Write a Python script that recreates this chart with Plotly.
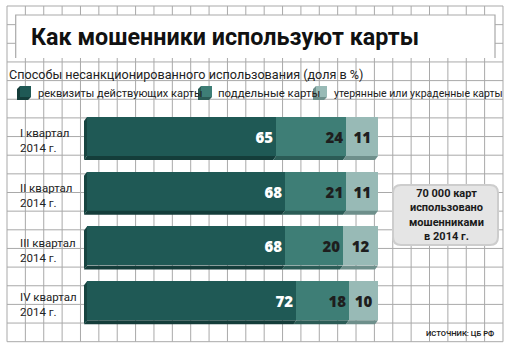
import plotly.graph_objects as go

# ---------------- data ----------------
quarters = ["I квартал<br>2014 г.", "II квартал<br>2014 г.", "III квартал<br>2014 г.", "IV квартал<br>2014 г."]
series_names = ["реквизиты действующих карты", "поддельные карты", "утерянные или украденные карты"]
real_cards = [65, 68, 68, 72]
fake_cards = [24, 21, 20, 18]
lost_cards = [11, 11, 12, 10]
title_text = "Как мошенники используют карты"
subtitle_text = "Способы несанкционированного использования (доля в %)"
callout_lines = ["70 000 карт", "использовано", "мошенниками", "в 2014 г."]
source_text = "ИСТОЧНИК: ЦБ РФ"

face_colors = ["#1f5955", "#3e7e76", "#98bab6"]
side_colors = ["#143d3a", "#2b5c56", "#6e8f8b"]
text_colors = ["#ffffff", "#1e1e1e", "#1e1e1e"]
series_vals = [real_cards, fake_cards, lost_cards]

W, H = 512, 351

def px(x):
    return x / W

def py(y):
    return 1 - y / H

# axis geometry (pixels)
X_LO, X_HI = -2, 102
x_face0 = 87.0
ppx = 2.91  # pixels per percent
x_dom = [px(x_face0 + ppx * X_LO), px(x_face0 + ppx * X_HI)]
pitch = 54.75
c0 = 136.5
y_top_px = c0 - pitch / 2
y_bot_px = c0 + pitch * 3.5
y_dom = [py(y_bot_px), py(y_top_px)]
bar_w = 39 / pitch

ypos = list(range(len(quarters)))

fig = go.Figure()
for k in range(3):
    fig.add_trace(go.Bar(
        y=ypos, x=series_vals[k], orientation="h", name=series_names[k],
        marker=dict(color=face_colors[k], line=dict(width=0)),
        width=bar_w,
        text=[str(v) for v in series_vals[k]],
        textposition="inside",
        insidetextanchor="end" if k < 2 else "middle",
        textangle=0,
        textfont=dict(family="Open Sans", size=15, color=text_colors[k], weight=800),
        hoverinfo="skip", showlegend=False,
    ))

shapes = []
# grid
gx = [7 + 18.37 * k for k in range(28)]
gy = [6 + 18.65 * k for k in range(19)]
path = ""
for x in gx:
    path += f"M{px(x)},{py(6)} L{px(x)},{py(341.7)} "
for y in gy:
    path += f"M{px(7)},{py(y)} L{px(503)},{py(y)} "
shapes.append(dict(type="path", path=path, xref="paper", yref="paper",
                   line=dict(color="#a9a9a9", width=1), layer="below"))
# title box
shapes.append(dict(type="rect", xref="paper", yref="paper", x0=px(15.7), x1=px(495), y0=py(58), y1=py(15),
                   fillcolor="white", line=dict(width=0), layer="below"))
shapes.append(dict(type="path", xref="paper", yref="paper",
                   path=f"M{px(15.7)},{py(58)} L{px(15.7)},{py(15)} L{px(495)},{py(15)} L{px(495)},{py(58)}",
                   line=dict(color="#a9a9a9", width=1.2), layer="below"))
# callout box
bx0, bx1, by0, by1, r = 393, 498, 185, 245, 8
cpath = (f"M{px(bx0+r)},{py(by0)} L{px(bx1-r)},{py(by0)} Q{px(bx1)},{py(by0)} {px(bx1)},{py(by0+r)} "
         f"L{px(bx1)},{py(by1-r)} Q{px(bx1)},{py(by1)} {px(bx1-r)},{py(by1)} "
         f"L{px(bx0+r)},{py(by1)} Q{px(bx0)},{py(by1)} {px(bx0)},{py(by1-r)} "
         f"L{px(bx0)},{py(by0+r)} Q{px(bx0)},{py(by0)} {px(bx0+r)},{py(by0)} Z")
shapes.append(dict(type="path", xref="paper", yref="paper", path=cpath,
                   fillcolor="#e5e5e5", line=dict(color="#cdcdcd", width=2), layer="below"))

# 3D bevels for bars (data coordinates)
dx = 3 / ppx
dy = 4 / pitch
for i in ypos:
    yt = i - bar_w / 2
    yb = i + bar_w / 2
    start = 0
    for k in range(3):
        end = start + series_vals[k][i]
        shapes.append(dict(type="path", xref="x", yref="y",
                           path=f"M{start},{yb} L{end},{yb} L{end-dx},{yb+dy} L{start-dx},{yb+dy} Z",
                           fillcolor=side_colors[k], line=dict(width=0), layer="above"))
        start = end
    shapes.append(dict(type="path", xref="x", yref="y",
                       path=f"M0,{yt} L0,{yb} L{-dx},{yb+dy} L{-dx},{yt+dy} Z",
                       fillcolor="#164440", line=dict(width=0), layer="above"))

# legend cubes
leg_x = [17, 198, 313]
leg_text_x = [36, 216, 332]
leg_size = [11.0, 11.4, 10.5]
for k in range(3):
    x0 = leg_x[k]
    f0, f1 = x0 + 3, x0 + 14
    t0, t1 = 86, 97
    shapes.append(dict(type="rect", xref="paper", yref="paper", x0=px(f0), x1=px(f1), y0=py(t1), y1=py(t0),
                       fillcolor=face_colors[k], line=dict(width=0), layer="above"))
    shapes.append(dict(type="path", xref="paper", yref="paper",
                       path=f"M{px(f0)},{py(t0)} L{px(f0)},{py(t1)} L{px(f1)},{py(t1)} L{px(f1-3)},{py(t1+3)} L{px(f0-3)},{py(t1+3)} L{px(f0-3)},{py(t0+3)} Z",
                       fillcolor=side_colors[k], line=dict(width=0), layer="above"))

annotations = []
annotations.append(dict(text=f"<b>{title_text}</b>", x=px(29), y=py(37), xref="paper", yref="paper",
                        xanchor="left", yanchor="middle", showarrow=False,
                        font=dict(family="Roboto", size=23.3, color="#111111", weight=900)))
annotations.append(dict(text=subtitle_text, x=px(7), y=py(74), xref="paper", yref="paper",
                        xanchor="left", yanchor="middle", showarrow=False,
                        font=dict(family="Roboto", size=12.6, color="#222222")))
for k in range(3):
    annotations.append(dict(text=series_names[k], x=px(leg_text_x[k]), y=py(93.5), xref="paper", yref="paper",
                            xanchor="left", yanchor="middle", showarrow=False,
                            font=dict(family="Roboto", size=leg_size[k], color="#222222")))
for i in ypos:
    annotations.append(dict(text=quarters[i], x=px(18), y=i, xref="paper", yref="y", yshift=-4,
                            xanchor="left", yanchor="middle", align="left", showarrow=False,
                            font=dict(family="Roboto", size=11.5, color="#222222")))
annotations.append(dict(text="<br>".join(f"<b>{t}</b>" for t in callout_lines), x=px(446), y=py(214.5),
                        xref="paper", yref="paper", xanchor="center", yanchor="middle", align="center",
                        showarrow=False,
                        font=dict(family="Roboto", size=11, color="#1a1a1a", weight=700)))
annotations.append(dict(text=source_text, x=px(496), y=py(333.5), xref="paper", yref="paper",
                        xanchor="right", yanchor="middle", showarrow=False,
                        font=dict(family="Roboto", size=7.6, color="#222222", weight=600)))

fig.update_layout(
    width=W, height=H, margin=dict(l=0, r=0, t=0, b=0),
    paper_bgcolor="white", plot_bgcolor="rgba(0,0,0,0)",
    barmode="stack", bargap=0,
    xaxis=dict(domain=x_dom, range=[X_LO, X_HI], visible=False, fixedrange=True),
    yaxis=dict(domain=y_dom, range=[3.5, -0.5], visible=False, fixedrange=True),
    shapes=shapes, annotations=annotations,
    uniformtext=dict(mode=False),
)
fig.write_html("out.html", config={"displayModeBar": False})
